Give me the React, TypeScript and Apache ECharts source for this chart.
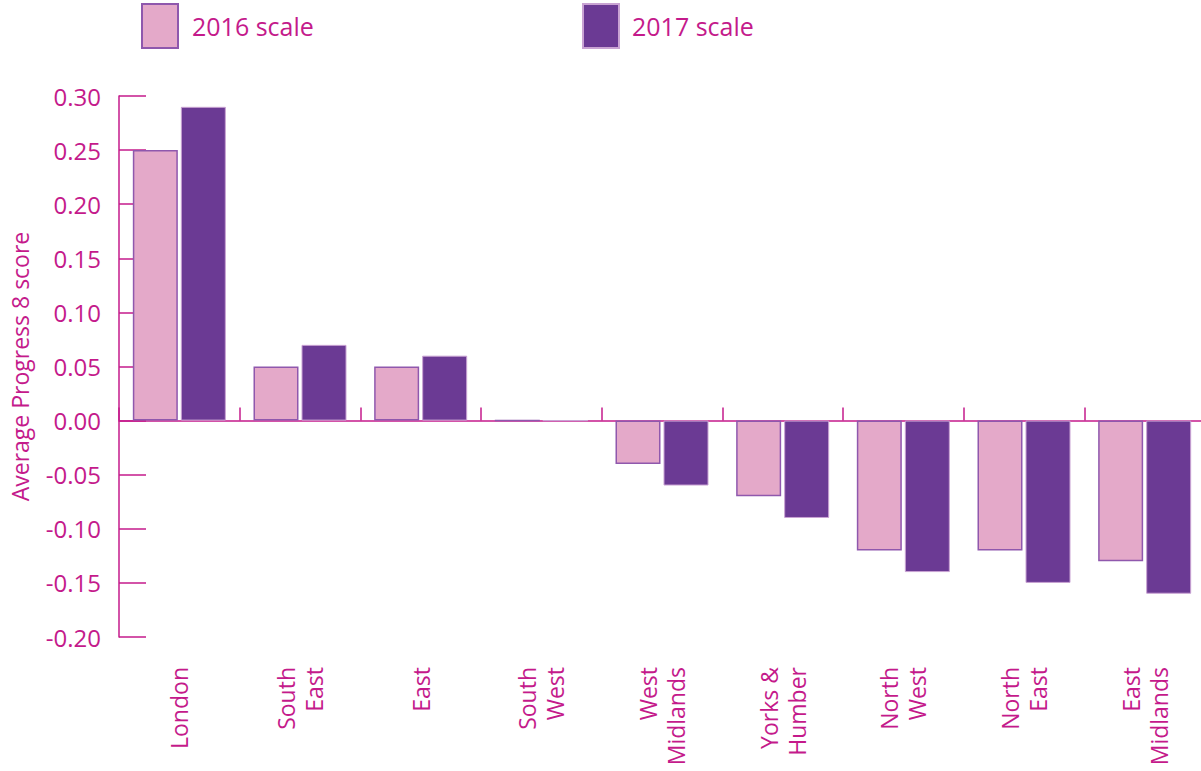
import React, { useEffect, useRef } from "react";
import * as echarts from "echarts";

const categories = [
  "London",
  "South\nEast",
  "East",
  "South\nWest",
  "West\nMidlands",
  "Yorks &\nHumber",
  "North\nWest",
  "North\nEast",
  "East\nMidlands",
];
const values2016 = [0.25, 0.05, 0.05, 0, -0.04, -0.07, -0.12, -0.12, -0.13];
const values2017 = [0.29, 0.07, 0.06, 0, -0.06, -0.09, -0.14, -0.15, -0.16];
const seriesNames = ["2016 scale", "2017 scale"];

const MAGENTA = "#c41a8b";
const FONT = "Open Sans";

export default function App() {
  const ref = useRef<HTMLDivElement>(null);
  useEffect(() => {
    if (!ref.current) return;
    const chart = echarts.init(ref.current, undefined, { renderer: "svg" });
    chart.setOption({
      animation: false,
      textStyle: { fontFamily: FONT },
      legend: [
        {
          data: [seriesNames[0]],
          left: 141,
          top: 3,
          itemWidth: 36,
          itemHeight: 44,
          icon: "rect",
          textStyle: { color: MAGENTA, fontSize: 25, fontFamily: FONT, padding: [0, 0, 0, 9] },
          padding: 0,
        },
        {
          data: [seriesNames[1]],
          left: 582,
          top: 3,
          itemWidth: 36,
          itemHeight: 44,
          icon: "rect",
          textStyle: { color: MAGENTA, fontSize: 25, fontFamily: FONT, padding: [0, 0, 0, 8] },
          padding: 0,
        },
      ],
      grid: { left: 119, right: 1, top: 96, bottom: 134, containLabel: false },
      xAxis: [
        {
          type: "category",
          data: categories,
          position: "bottom",
          axisLine: { show: true, onZero: true, lineStyle: { color: MAGENTA, width: 1.5 } },
          axisTick: { show: true, inside: true, length: 13, lineStyle: { color: MAGENTA, width: 1.5 } },
          axisLabel: { show: false },
          splitLine: { show: false },
        },
        {
          type: "category",
          data: categories,
          position: "bottom",
          axisLine: { show: false, onZero: false },
          axisTick: { show: false },
          axisLabel: {
            show: true,
            interval: 0,
            rotate: 90,
            margin: 30,
            color: MAGENTA,
            fontSize: 23,
            lineHeight: 28,
            fontFamily: FONT,
          },
          splitLine: { show: false },
        },
      ],
      yAxis: {
        type: "value",
        min: -0.2,
        max: 0.3,
        interval: 0.05,
        name: "Average Progress 8 score",
        nameLocation: "middle",
        nameRotate: 90,
        nameGap: 88,
        nameTextStyle: { color: MAGENTA, fontSize: 23, fontFamily: FONT },
        axisLine: { show: true, lineStyle: { color: MAGENTA, width: 1.5 } },
        axisTick: { show: true, inside: true, length: 27, lineStyle: { color: MAGENTA, width: 1.5 } },
        axisLabel: {
          color: MAGENTA,
          fontSize: 24,
          margin: 18,
          fontFamily: FONT,
          formatter: (v: number) => v.toFixed(2),
        },
        splitLine: { show: false },
      },
      series: [
        {
          name: seriesNames[0],
          type: "bar",
          xAxisIndex: 0,
          data: values2016,
          barWidth: 45,
          barGap: "6.7%",
          itemStyle: { color: "#e4a9c9", borderColor: "#8f58ad", borderWidth: 1.5 },
        },
        {
          name: seriesNames[1],
          type: "bar",
          xAxisIndex: 0,
          data: values2017,
          barWidth: 45,
          itemStyle: { color: "#6b3a94", borderColor: "#c9a3d3", borderWidth: 1 },
        },
      ],
    });
    return () => chart.dispose();
  }, []);
  return (
    <div style={{ width: 1201, height: 771, position: "absolute", left: 0, top: 0, overflow: "hidden" }}>
      <div ref={ref} style={{ width: 1206, height: 771, position: "absolute", left: 0, top: 0 }} />
    </div>
  );
}
